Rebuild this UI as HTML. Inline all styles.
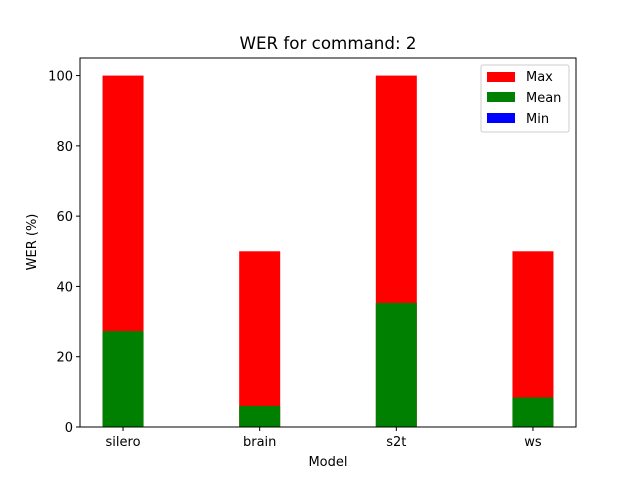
<!DOCTYPE html>
<html><head><meta charset="utf-8"><style>body{margin:0;background:#fff}text{font-family:"DejaVu Sans","Liberation Sans",sans-serif}</style></head>
<body>
<svg id="chart" width="640" height="480" xmlns="http://www.w3.org/2000/svg">
<text x="328" y="49" font-size="16.7" text-anchor="middle">WER for command: 2</text>
<g id="bars"></g>
<g id="ticks"></g>
<rect x="80" y="58" width="496" height="369" fill="none" stroke="#000" stroke-width="1"/>
<text x="328" y="466" font-size="13" text-anchor="middle">Model</text>
<text transform="translate(36,242) rotate(-90)" font-size="13" text-anchor="middle">WER (%)</text>
<g>
<rect x="481" y="65" width="88" height="67" rx="2" fill="#fff" stroke="#ccc"/>
<rect x="487" y="72" width="28" height="10" fill="#ff0000"/>
<text x="526" y="81" font-size="13">Max</text>
<rect x="487" y="92" width="28" height="10" fill="#008000"/>
<text x="526" y="102" font-size="13">Mean</text>
<rect x="487" y="113" width="28" height="10" fill="#0000ff"/>
<text x="526" y="123" font-size="13">Min</text>
</g>
</svg>
<script>
const categories=["silero","brain","s2t","ws"];
const maxValues=[100,50,100,50];
const meanValues=[27.3,6.0,35.3,8.4];
const minValues=[0,0,0,0];
const yTicks=[0,20,40,60,80,100];
const NS="http://www.w3.org/2000/svg";
const x0=80,x1=576,y0=427,yTop=58;
const xmin=-0.315,xmax=3.315,ymax=105;
const xs=v=>x0+(v-xmin)/(xmax-xmin)*(x1-x0);
const ys=v=>y0-v/ymax*(y0-yTop);
const bw=0.3;
const bars=document.getElementById('bars'),ticks=document.getElementById('ticks');
function mk(t,a,p){const e=document.createElementNS(NS,t);for(const k in a)e.setAttribute(k,a[k]);p.appendChild(e);return e;}
function bar(i,v,c,name){const r=mk('rect',{x:xs(i-bw/2),y:ys(v),width:xs(i+bw/2)-xs(i-bw/2),height:y0-ys(v),fill:c},bars);

}
categories.forEach((c,i)=>{
bar(i,maxValues[i],'#ff0000','bar-max-'+c);
bar(i,meanValues[i],'#008000','bar-mean-'+c);
bar(i,minValues[i],'#0000ff','bar-min-'+c);
const X=xs(i);
mk('line',{x1:X,x2:X,y1:y0,y2:y0+4,stroke:'#000'},ticks);
const t=mk('text',{x:X,y:y0+19,'font-size':13,'text-anchor':'middle'},ticks);t.textContent=c;


});
yTicks.forEach(v=>{const Y=ys(v);
mk('line',{x1:x0-4,x2:x0,y1:Y,y2:Y,stroke:'#000'},ticks);
const t=mk('text',{x:x0-7,y:Y+5,'font-size':13,'text-anchor':'end'},ticks);t.textContent=v;


});
</script>
</body></html>
